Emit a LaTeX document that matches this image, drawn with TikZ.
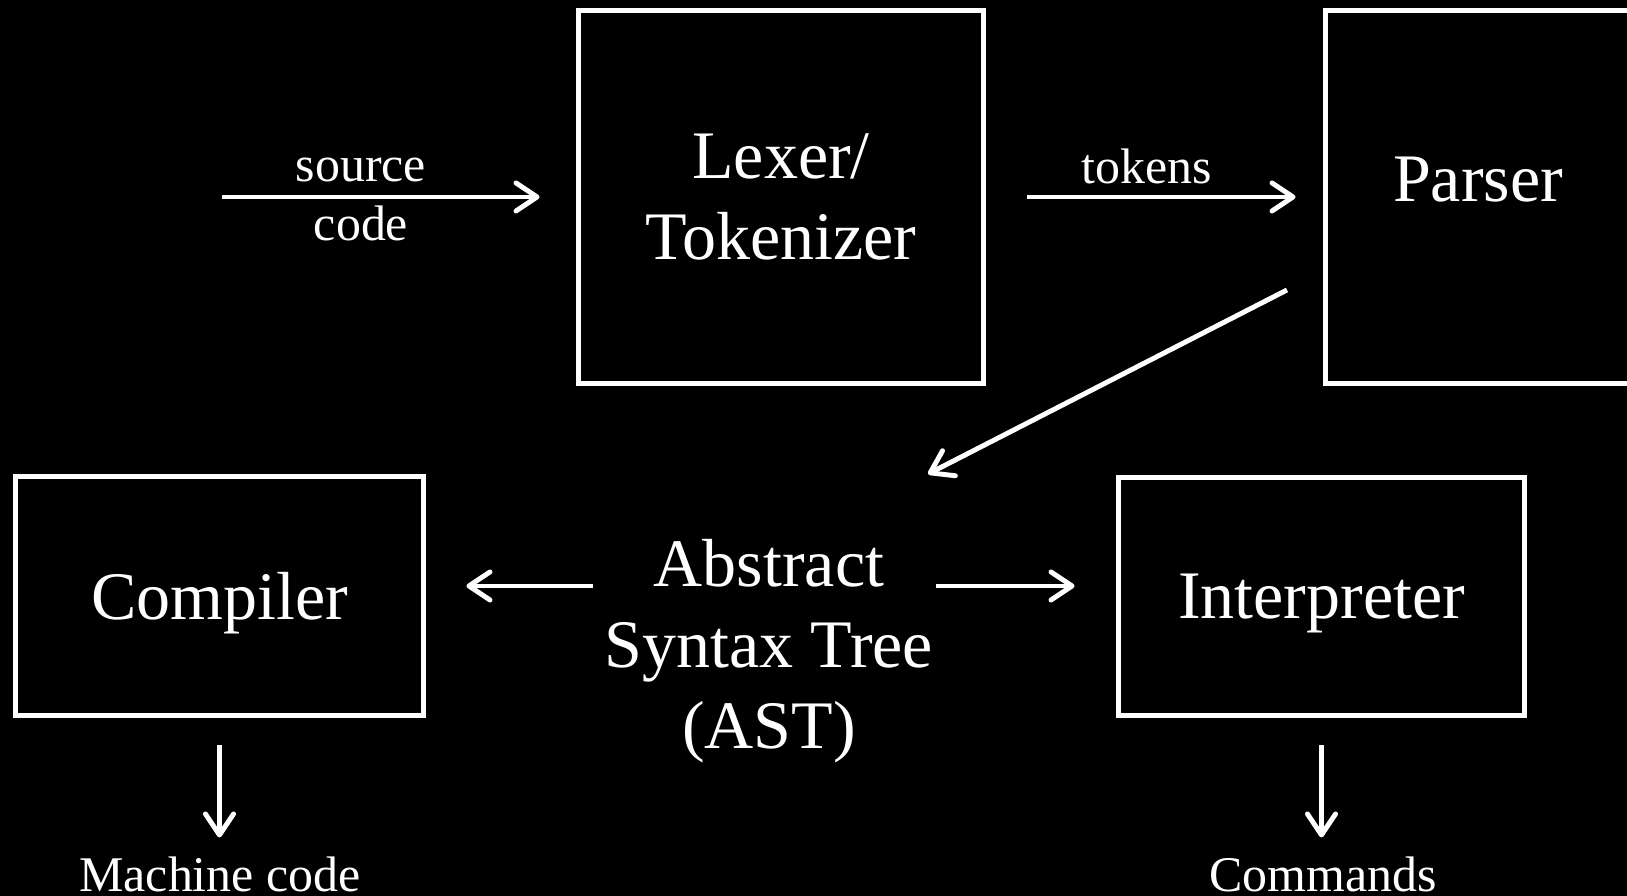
\documentclass[tikz,border=0pt]{standalone}
\usepackage{fontspec}
\setmainfont{Liberation Serif}
\usetikzlibrary{arrows.meta}

\begin{document}
\begin{tikzpicture}
  \tikzstyle{every node}=[text=white, font=\fontsize{19.35}{23}\selectfont]
  \tikzstyle{box}=[draw=white, line width=1.4pt, inner sep=0pt, align=center]
  \tikzstyle{small}=[font=\fontsize{14.2}{16.8}\selectfont, align=center]
  \tikzstyle{arr}=[draw=white, line width=1.4pt, -{Straight Barb[length=6pt,width=8pt,round]}]
  \fill[black] (0,0) rectangle (16.27,8.96);
  \useasboundingbox (0,0) rectangle (16.27,8.96);
  \clip (0,0) rectangle (16.27,8.96);
  \node[box, minimum width=4.05cm, minimum height=3.73cm] (lexer) at (7.81,6.99) {Lexer/\\Tokenizer};
  \node[box, minimum width=3.05cm, minimum height=3.73cm, label={[yshift=0.17cm]center:Parser}] (parser) at (14.78,6.99) {};
  \node[box, text depth=0pt, minimum width=4.08cm, minimum height=2.39cm] (compiler) at (2.195,3.00) {Compiler};
  \node[box, text depth=0pt, minimum width=4.06cm, minimum height=2.38cm] (interp) at (13.215,2.995) {Interpreter};
  \node[align=center] (ast) at (7.69,2.445) {Abstract\\Syntax Tree\\(AST)};
  \node[small] (srclbl) at (3.61,6.965) {source\\code};
  \node[small] (toklbl) at (11.47,7.30) {tokens};
  \node[small] (mcode) at (2.20,0.22) {Machine code};
  \node[small] (cmds) at (13.23,0.22) {Commands};
  \coordinate (src) at (2.22,6.99);
  \coordinate (pout) at (12.87,6.06);
  \coordinate (astin) at (9.28,4.22);
  \coordinate (astl) at (5.93,3.10);
  \coordinate (astr) at (9.36,3.10);
  \draw[arr, shorten >=0.365cm] (src) -- (lexer.west);
  \draw[arr, shorten <=0.415cm, shorten >=0.275cm] (lexer.east) -- (parser.west);
  \draw[arr] (pout) -- (astin);
  \draw[arr, shorten >=0.405cm] (astl) -- (astl -| compiler.east);
  \draw[arr, shorten >=0.415cm] (astr) -- (astr -| interp.west);
  \draw[arr] ([yshift=-0.275cm]compiler.south) -- ++(0,-0.92);
  \draw[arr] ([yshift=-0.275cm]interp.south) -- ++(0,-0.92);
\end{tikzpicture}
\end{document}
